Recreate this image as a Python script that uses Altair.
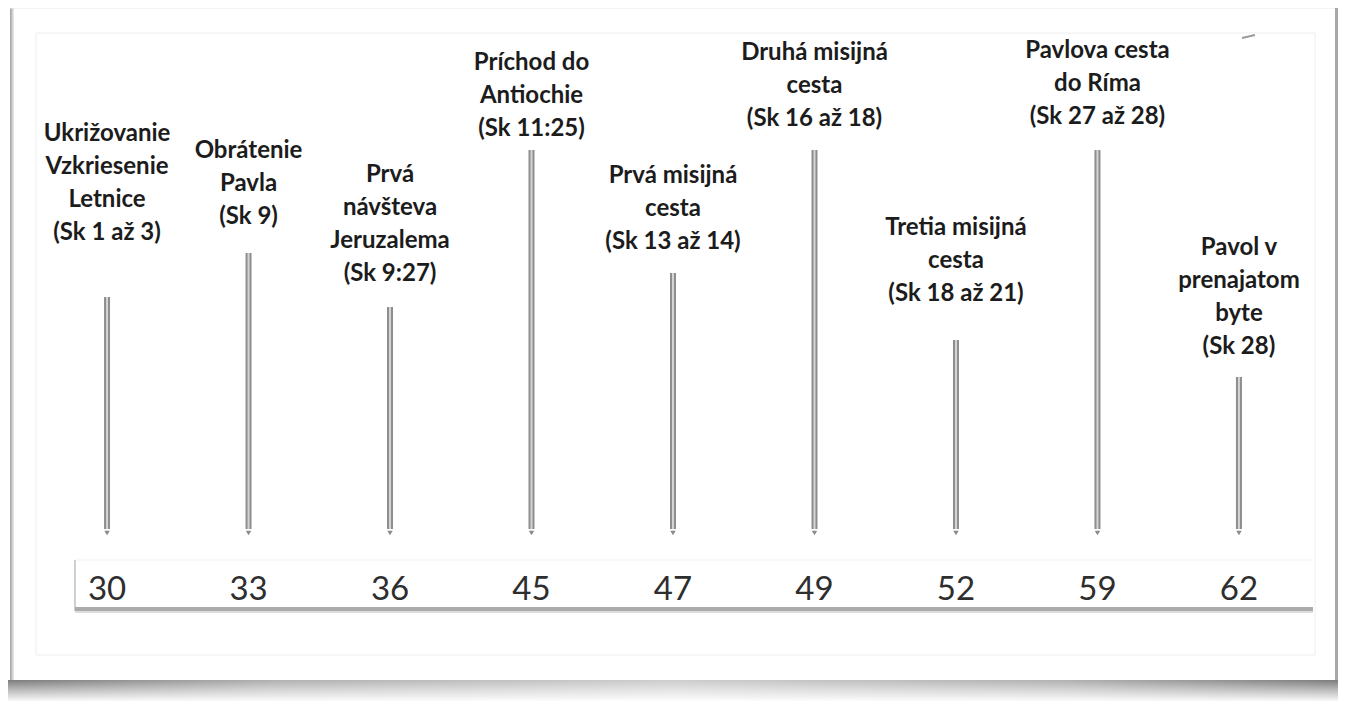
import altair as alt
import pandas as pd

# ---- data ----
years = ["30", "33", "36", "45", "47", "49", "52", "59", "62"]
labels = [
    "Ukrižovanie\nVzkriesenie\nLetnice\n(Sk 1 až 3)",
    "Obrátenie\nPavla\n(Sk 9)",
    "Prvá\nnávšteva\nJeruzalema\n(Sk 9:27)",
    "Príchod do\nAntiochie\n(Sk 11:25)",
    "Prvá misijná\ncesta\n(Sk 13 až 14)",
    "Druhá misijná\ncesta\n(Sk 16 až 18)",
    "Tretia misijná\ncesta\n(Sk 18 až 21)",
    "Pavlova cesta\ndo Ríma\n(Sk 27 až 28)",
    "Pavol v\nprenajatom\nbyte\n(Sk 28)",
]
# arrow length (height of arrow top above the arrow tip)
arrow_top = [240, 284, 230, 387, 264, 387, 197, 387, 160]
# level of the top line of each label block
label_level = [391, 374, 350, 462, 349, 472, 297, 474, 277]

df = pd.DataFrame({
    "year": years,
    "label": labels,
    "top": arrow_top,
    "lab": label_level,
    "base": [8] * len(years),
    "tip": [4] * len(years),
})

W, H = 1330, 693
xs = alt.X("year:O", sort=years, scale=alt.Scale(type="point", padding=0.7), axis=None)
yscale = alt.Scale(domain=[-164, 529], nice=False, zero=False)

one = pd.DataFrame({"d": [0]})

def rect(x, x2, y, y2, **kw):
    return alt.Chart(one).mark_rect(**kw).encode(
        x=alt.value(x), x2=alt.value(x2), y=alt.value(y), y2=alt.value(y2))

def rule(x, x2, y, y2, **kw):
    return alt.Chart(one).mark_rule(**kw).encode(
        x=alt.value(x), x2=alt.value(x2), y=alt.value(y), y2=alt.value(y2))

# ---- photo-like frame decoration ----
bottom_shadow = rect(0, W, 672, H, color=alt.Gradient(
    gradient="linear", x1=0, x2=1, y1=0, y2=0,
    stops=[alt.GradientStop(color="#7c7c7c", offset=0),
           alt.GradientStop(color="#b0b0b0", offset=0.2),
           alt.GradientStop(color="#cdcdcd", offset=0.5),
           alt.GradientStop(color="#b0b0b0", offset=0.8),
           alt.GradientStop(color="#7c7c7c", offset=1)]))
bottom_fade = rect(0, W, 672, H, color=alt.Gradient(
    gradient="linear", x1=0, x2=0, y1=0, y2=1,
    stops=[alt.GradientStop(color="rgba(255,255,255,0)", offset=0),
           alt.GradientStop(color="rgba(255,255,255,0.45)", offset=0.45),
           alt.GradientStop(color="rgba(255,255,255,0.95)", offset=1)]))
right_shadow = rect(1327, W, 0, 672, color="#a8a8a8")
left_edge = rect(2, 6, 0, 672, color=alt.Gradient(
    gradient="linear", x1=0, x2=1, y1=0, y2=0,
    stops=[alt.GradientStop(color="#a0a0a0", offset=0),
           alt.GradientStop(color="#eeeeee", offset=1)]))
top_edge = rule(2, 1327, 0, 0, color="#e8e8e8", strokeWidth=1)
inner_frame = alt.Chart(one).mark_rect(fill="transparent", stroke="#eeeeee", strokeWidth=1).encode(
    x=alt.value(28), x2=alt.value(1307), y=alt.value(25), y2=alt.value(647))
mark_tr = rule(1234, 1247, 30, 27, color="#9a9a9a", strokeWidth=2)

# year strip
strip = rect(67, 1305, 552, 602, color="white")
strip_top = rule(67, 1305, 552, 552, color="#f1f1f1", strokeWidth=1)
strip_left = rule(67, 67, 552, 603, color="#d0d0d0", strokeWidth=2)
strip_bottom = rule(67, 1305, 601, 601, color="#ababab", strokeWidth=4)
strip_bottom2 = rule(67, 1305, 604, 604, color="#dddddd", strokeWidth=2)

base = alt.Chart(df)

shaft_outer = base.mark_rule(color="#8e8e8e", strokeWidth=6).encode(
    x=xs, y=alt.Y("top:Q", scale=yscale, axis=None), y2="base:Q")
shaft_inner = base.mark_rule(color="#d4d4d4", strokeWidth=2).encode(
    x=xs, y=alt.Y("top:Q", scale=yscale, axis=None), y2="base:Q")
heads = base.mark_point(shape="triangle-down", filled=True, size=30,
                        color="#8a8a8a", opacity=1).encode(
    x=xs, y=alt.Y("tip:Q", scale=yscale, axis=None))

text = base.mark_text(font="Lato", fontWeight="bold", fontSize=24,
                      lineBreak="\n", lineHeight=33, baseline="bottom",
                      align="center", color="#1c1c1c").encode(
    x=xs, y=alt.Y("lab:Q", scale=yscale, axis=None), text="label:N")

year_text = base.mark_text(font="Lato", fontSize=33, baseline="middle",
                           align="center", color="#2e2e2e").encode(
    x=xs, y=alt.value(582), text="year:N")

chart = alt.layer(
    bottom_shadow, bottom_fade, right_shadow, left_edge, top_edge,
    inner_frame, mark_tr,
    strip, strip_top, strip_left, strip_bottom2, strip_bottom,
    shaft_outer, shaft_inner, heads, text, year_text,
).properties(
    width=W, height=H, padding=0, background="white",
    autosize=alt.AutoSizeParams(type="none"),
).configure_view(strokeWidth=0)

chart.save("out.html", embed_options={"renderer": "svg", "actions": False})
